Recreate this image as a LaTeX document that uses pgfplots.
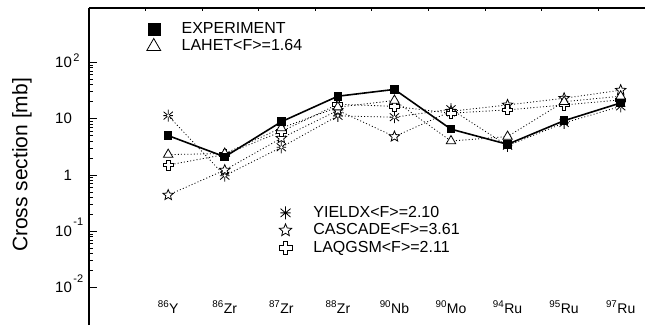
\documentclass[border=0pt]{standalone}
\usepackage{pgfplots}
\pgfplotsset{compat=1.18}
\usepackage{fontspec}
\setmainfont{Liberation Sans}
\pgfdeclareplotmark{ostar}{%
  \pgfpathmoveto{\pgfpointpolar{90}{\pgfplotmarksize}}%
  \pgfpathlineto{\pgfpointpolar{126}{0.45\pgfplotmarksize}}%
  \pgfpathlineto{\pgfpointpolar{162}{\pgfplotmarksize}}%
  \pgfpathlineto{\pgfpointpolar{198}{0.45\pgfplotmarksize}}%
  \pgfpathlineto{\pgfpointpolar{234}{\pgfplotmarksize}}%
  \pgfpathlineto{\pgfpointpolar{270}{0.45\pgfplotmarksize}}%
  \pgfpathlineto{\pgfpointpolar{306}{\pgfplotmarksize}}%
  \pgfpathlineto{\pgfpointpolar{342}{0.45\pgfplotmarksize}}%
  \pgfpathlineto{\pgfpointpolar{18}{\pgfplotmarksize}}%
  \pgfpathlineto{\pgfpointpolar{54}{0.45\pgfplotmarksize}}%
  \pgfpathclose\pgfusepathqfillstroke}
\pgfdeclareplotmark{oplus}{%
  \pgfpathmoveto{\pgfpoint{0.35\pgfplotmarksize}{\pgfplotmarksize}}%
  \pgfpathlineto{\pgfpoint{0.35\pgfplotmarksize}{0.35\pgfplotmarksize}}%
  \pgfpathlineto{\pgfpoint{\pgfplotmarksize}{0.35\pgfplotmarksize}}%
  \pgfpathlineto{\pgfpoint{\pgfplotmarksize}{-0.35\pgfplotmarksize}}%
  \pgfpathlineto{\pgfpoint{0.35\pgfplotmarksize}{-0.35\pgfplotmarksize}}%
  \pgfpathlineto{\pgfpoint{0.35\pgfplotmarksize}{-\pgfplotmarksize}}%
  \pgfpathlineto{\pgfpoint{-0.35\pgfplotmarksize}{-\pgfplotmarksize}}%
  \pgfpathlineto{\pgfpoint{-0.35\pgfplotmarksize}{-0.35\pgfplotmarksize}}%
  \pgfpathlineto{\pgfpoint{-\pgfplotmarksize}{-0.35\pgfplotmarksize}}%
  \pgfpathlineto{\pgfpoint{-\pgfplotmarksize}{0.35\pgfplotmarksize}}%
  \pgfpathlineto{\pgfpoint{-0.35\pgfplotmarksize}{0.35\pgfplotmarksize}}%
  \pgfpathlineto{\pgfpoint{-0.35\pgfplotmarksize}{\pgfplotmarksize}}%
  \pgfpathclose\pgfusepathqfillstroke}
\pgfdeclareplotmark{ast8}{%
  \pgfpathmoveto{\pgfpointpolar{90}{\pgfplotmarksize}}\pgfpathlineto{\pgfpointpolar{270}{\pgfplotmarksize}}%
  \pgfpathmoveto{\pgfpointpolar{0}{0.8\pgfplotmarksize}}\pgfpathlineto{\pgfpointpolar{180}{0.8\pgfplotmarksize}}%
  \pgfpathmoveto{\pgfpointpolar{40}{\pgfplotmarksize}}\pgfpathlineto{\pgfpointpolar{220}{\pgfplotmarksize}}%
  \pgfpathmoveto{\pgfpointpolar{140}{\pgfplotmarksize}}\pgfpathlineto{\pgfpointpolar{320}{\pgfplotmarksize}}%
  \pgfusepathqstroke
  \pgfpathcircle{\pgfpointorigin}{0.25\pgfplotmarksize}\pgfusepathqfill}

\pgfplotstableread{
x exp lahet yieldx cascade laqgsm
0 5.0  2.3  11.3 0.44 1.5
1 2.1  2.4  0.97 1.22 2.3
2 8.8  6.8  3.1  4.5  5.9
3 25   16   11.2 14   18
4 33   21   10.6 4.8  16.5
5 6.5  4.0  14.7 13.5 12.5
6 3.5  4.8  3.3  17.5 14.3
7 9.2  20   8.4  23   17.5
8 19   25   16.5 32   21.5
}\datatable

\pgfplotsset{
  legend image code/.code={%
      \draw[#1] plot coordinates {(8pt,0pt)};
      \path (0pt,0pt) (34pt,0pt);},
  dotser/.style={black, line width=0.8pt, dash pattern=on 1pt off 2.2pt,
    mark options={solid, line width=0.8pt, fill=white}},
}

\begin{document}
\begin{tikzpicture}
\begin{axis}[
  scale only axis, width=556pt, height=317pt,
  at={(0,0)}, anchor=south west,
  xmin=-1.40, xmax=8.43,
  ymode=log, ymin=0.00217, ymax=920,
  clip=false, hide axis,
  legend style={draw=none, fill=none, inner sep=0pt,
    font=\fontsize{16}{17}\selectfont,
    nodes={inner sep=1.5pt, text height=11.5pt, text depth=3pt}, row sep=0pt,
    cells={anchor=west},
    at={(axis description cs:0.338,0.382)}, anchor=north west}]
  \addplot[dotser, mark=ast8, mark size=6pt, forget plot] table[x=x,y=yieldx]{\datatable};
  \addplot[dotser, mark=ostar, mark size=5.5pt, forget plot] table[x=x,y=cascade]{\datatable};
  \addplot[dotser, mark=oplus, mark size=5pt, forget plot] table[x=x,y=laqgsm]{\datatable};
  \addlegendimage{only marks, black, mark=ast8, mark size=6.5pt, line width=0.8pt}
  \addlegendentry{YIELDX<F>=2.10}
  \addlegendimage{only marks, black, mark=ostar, mark size=6.5pt, line width=0.8pt, fill=white}
  \addlegendentry{CASCADE<F>=3.61}
  \addlegendimage{only marks, black, mark=oplus, mark size=6.5pt, line width=0.8pt, fill=white}
  \addlegendentry{LAQGSM<F>=2.11}
\end{axis}
\begin{axis}[
  scale only axis, width=556pt, height=317pt,
  at={(0,0)}, anchor=south west,
  xmin=-1.40, xmax=8.43,
  ymode=log, ymin=0.00217, ymax=920,
  clip=false,
  axis x line=top, axis y line=left,
  axis line style={-, line width=1.2pt},
  tick align=inside,
  major tick length=8pt, minor tick length=4pt,
  tick style={black, line width=0.7pt},
  xtick=\empty,
  extra x ticks={-0.4,0.6,1.6,2.6,3.6,4.6,5.6,6.6,7.6},
  extra x tick labels={},
  extra x tick style={major tick length=3pt},
  ytick={0.01,0.1,1,10,100},
  yticklabels={},
  ylabel={Cross section [mb]},
  every axis y label/.style={at={(axis description cs:-0.1205,0.505)}, rotate=90, anchor=center,
    font=\fontsize{21}{21}\selectfont},
  legend style={draw=none, fill=none, inner sep=0pt,
    font=\fontsize{16}{17}\selectfont,
    nodes={inner sep=1.5pt, text height=11.5pt, text depth=3pt}, row sep=0pt,
    cells={anchor=west},
    at={(axis description cs:0.101,0.962)}, anchor=north west}]
  \addplot[dotser, mark=triangle*, mark size=5.5pt, forget plot] table[x=x,y=lahet]{\datatable};
  \addplot[black, line width=1.6pt, mark=square*, mark size=3.5pt, forget plot] table[x=x,y=exp]{\datatable};
  \addlegendimage{only marks, black, mark=square*, mark size=6pt}
  \addlegendentry{EXPERIMENT}
  \addlegendimage{only marks, black, mark=triangle*, mark size=8pt, line width=0.8pt, fill=white}
  \addlegendentry{LAHET<F>=1.64}
  \node[anchor=base west, inner sep=0pt, xshift=-34pt, yshift=-5.3pt, font=\fontsize{15}{15}\selectfont]
    at (axis cs:-1.4,100) {10\hspace{1.5pt}\raisebox{6pt}{\fontsize{11}{11}\selectfont 2}};
  \node[anchor=base west, inner sep=0pt, xshift=-34pt, yshift=-5.3pt, font=\fontsize{15}{15}\selectfont]
    at (axis cs:-1.4,10) {10};
  \node[anchor=base west, inner sep=0pt, xshift=-34pt, yshift=-5.3pt, font=\fontsize{15}{15}\selectfont]
    at (axis cs:-1.4,1) {\phantom{1}1};
  \node[anchor=base west, inner sep=0pt, xshift=-34pt, yshift=-5.3pt, font=\fontsize{15}{15}\selectfont]
    at (axis cs:-1.4,0.1) {10\hspace{1.5pt}\raisebox{11pt}{\fontsize{11}{11}\selectfont -1}};
  \node[anchor=base west, inner sep=0pt, xshift=-34pt, yshift=-5.3pt, font=\fontsize{15}{15}\selectfont]
    at (axis cs:-1.4,0.01) {10\hspace{1.5pt}\raisebox{10pt}{\fontsize{11}{11}\selectfont -2}};
  \node[anchor=base, font=\fontsize{14}{14}\selectfont] at (axis cs:0,0.00352) {\textsuperscript{86}Y};
  \node[anchor=base, font=\fontsize{14}{14}\selectfont] at (axis cs:1,0.00352) {\textsuperscript{86}Zr};
  \node[anchor=base, font=\fontsize{14}{14}\selectfont] at (axis cs:2,0.00352) {\textsuperscript{87}Zr};
  \node[anchor=base, font=\fontsize{14}{14}\selectfont] at (axis cs:3,0.00352) {\textsuperscript{88}Zr};
  \node[anchor=base, font=\fontsize{14}{14}\selectfont] at (axis cs:4,0.00352) {\textsuperscript{90}Nb};
  \node[anchor=base, font=\fontsize{14}{14}\selectfont] at (axis cs:5,0.00352) {\textsuperscript{90}Mo};
  \node[anchor=base, font=\fontsize{14}{14}\selectfont] at (axis cs:6,0.00352) {\textsuperscript{94}Ru};
  \node[anchor=base, font=\fontsize{14}{14}\selectfont] at (axis cs:7,0.00352) {\textsuperscript{95}Ru};
  \node[anchor=base, font=\fontsize{14}{14}\selectfont] at (axis cs:8,0.00352) {\textsuperscript{97}Ru};
\end{axis}
\pgfresetboundingbox
\path[use as bounding box] (-89pt,0pt) rectangle (556pt,325pt);
\end{tikzpicture}
\end{document}
